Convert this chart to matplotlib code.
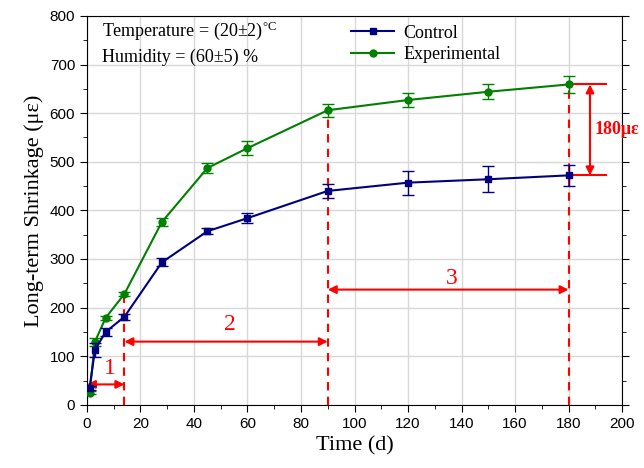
import numpy as np
import matplotlib.pyplot as plt
from matplotlib.ticker import MultipleLocator
from matplotlib.lines import Line2D

days = [1, 3, 7, 14, 28, 45, 60, 90, 120, 150, 180]
control = [35, 113, 150, 181, 293, 357, 384, 440, 457, 464, 472]
control_err = [4, 15, 8, 6, 8, 6, 10, 15, 25, 27, 22]
experimental = [25, 130, 179, 228, 376, 487, 528, 606, 627, 644, 659]
experimental_err = [3, 8, 4, 5, 8, 10, 14, 13, 15, 15, 17]

stages = ["1", "2", "3"]
stage_edges = [0, 14, 90, 180]
stage_arrow_y = [42, 130, 237]
stage_label_y = [75, 165, 260]
diff_label = "180με"

serif = ['Liberation Serif', 'DejaVu Serif']
sans = ['Liberation Sans', 'DejaVu Sans']
plt.rcParams['mathtext.fontset'] = 'stix'

fig = plt.figure(figsize=(6.44, 4.68), dpi=100)
ax = fig.add_axes([0.135, 0.135, 0.831, 0.831])

ax.errorbar(days, control, yerr=control_err, color='#000080', marker='s', markersize=5,
            linewidth=1.5, capsize=4, elinewidth=1, zorder=4)
ax.errorbar(days, experimental, yerr=experimental_err, color='#008000', marker='o', markersize=5,
            linewidth=1.5, capsize=4, elinewidth=1, zorder=3)

# stage boundaries
red = '#ff0000'
for d in stage_edges[1:]:
    top = experimental[days.index(d)]
    ax.plot([d, d], [0, top], color=red, linestyle=(0, (4, 3)), linewidth=1.5, zorder=2)

for i, lab in enumerate(stages):
    x0, x1 = stage_edges[i], stage_edges[i + 1]
    ax.annotate('', xy=(x0, stage_arrow_y[i]), xytext=(x1, stage_arrow_y[i]),
                arrowprops=dict(arrowstyle='<|-|>', color=red, lw=1.5, mutation_scale=12,
                                shrinkA=0, shrinkB=0))
    ax.text((x0 + x1) / 2 + 1.5, stage_label_y[i], lab, color=red, fontsize=17,
            family=serif, ha='center', va='center')

# difference at 180 d
ctl_end, exp_end = control[-1], experimental[-1]
ax.plot([181, 194], [exp_end, exp_end], color=red, lw=1.5)
ax.plot([181, 194], [ctl_end, ctl_end], color=red, lw=1.5)
ax.annotate('', xy=(188, exp_end), xytext=(188, ctl_end),
            arrowprops=dict(arrowstyle='<|-|>', color=red, lw=1.5, mutation_scale=12,
                            shrinkA=0, shrinkB=0))
ax.text(189.8, (exp_end + ctl_end) / 2, diff_label, color=red,
        fontsize=13, fontweight='bold', family=serif, va='center', ha='left')

ax.text(5.5, 770, 'Temperature = (20±2)$^{\\mathregular{°C}}$', family=serif, fontsize=13, va='center')
ax.text(5.5, 715, 'Humidity = (60±5) %', family=serif, fontsize=13, va='center')

handles = [Line2D([], [], color='#000080', marker='s', markersize=5, lw=1.5),
           Line2D([], [], color='#008000', marker='o', markersize=5, lw=1.5)]
ax.legend(handles, ['Control', 'Experimental'], loc='upper left', bbox_to_anchor=(0.47, 1.01),
          frameon=False, prop={'family': serif, 'size': 13}, handlelength=2.4,
          borderaxespad=0.3, labelspacing=0.25, handletextpad=0.5)

ax.set_xlim(0, 200)
ax.set_ylim(0, 800)
ax.xaxis.set_major_locator(MultipleLocator(20))
ax.xaxis.set_minor_locator(MultipleLocator(10))
ax.yaxis.set_major_locator(MultipleLocator(100))
ax.yaxis.set_minor_locator(MultipleLocator(50))
ax.grid(True, which='major', color='#d8d8d8', linewidth=1)
ax.set_axisbelow(True)
ax.tick_params(which='both', direction='out', right=True, top=False, labelsize=11)
ax.tick_params(which='major', length=5)
ax.tick_params(which='minor', length=3)
for lbl in ax.get_xticklabels() + ax.get_yticklabels():
    lbl.set_family(sans)

ax.set_xlabel('Time (d)', family=serif, fontsize=16)
ax.set_ylabel('Long-term Shrinkage (με)', family=serif, fontsize=16)

fig.savefig('out.png', dpi=100)
